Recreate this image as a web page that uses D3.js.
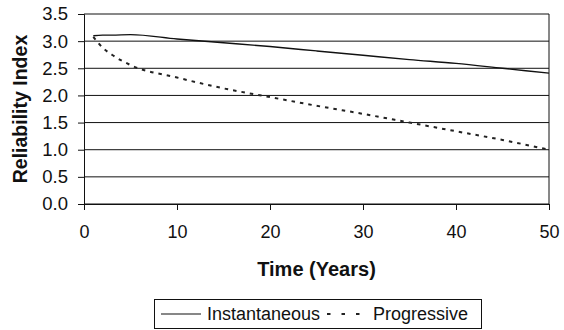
<!DOCTYPE html>
<html>
<head>
<meta charset="utf-8">
<script src="https://cdn.jsdelivr.net/npm/d3@7"></script>
<style>
  body { margin: 0; background: #fff; }
  svg { display: block; font-family: "Liberation Sans", Arial, sans-serif; }
</style>
</head>
<body>
<svg id="chart"></svg>
<script>
// values
var years = [1, 2, 3, 5, 10, 15, 20, 25, 30, 35, 40, 45, 50]
var instantaneous = [3.10, 3.11, 3.11, 3.12, 3.04, 2.97, 2.90, 2.82, 2.74, 2.66, 2.59, 2.50, 2.41]
var progressive = [3.08, 2.88, 2.75, 2.56, 2.33, 2.13, 1.97, 1.81, 1.66, 1.50, 1.34, 1.18, 1.00]
var xTicks = [0, 10, 20, 30, 40, 50]
var yTicks = [0, 0.5, 1, 1.5, 2, 2.5, 3, 3.5]
var seriesNames = ["Instantaneous", "Progressive"]

var dimensions = {
    width: 564,
    height: 330,
    margin: { top: 14, bottom: 126, right: 15, left: 84 }
}

var svg = d3.select("#chart")
    .attr("width", dimensions.width)
    .attr("height", dimensions.height)

var xScale = d3.scaleLinear()
    .domain([0, 50])
    .range([dimensions.margin.left, dimensions.width - dimensions.margin.right])

var yScale = d3.scaleLinear()
    .domain([0, 3.5])
    .range([dimensions.height - dimensions.margin.bottom, dimensions.margin.top])

// gridlines
svg.append("g")
    .selectAll("line")
    .data(yTicks)
    .enter()
    .append("line")
    .attr("x1", xScale(0))
    .attr("x2", xScale(50))
    .attr("y1", d => yScale(d))
    .attr("y2", d => yScale(d))
    .attr("stroke", "#111")
    .attr("stroke-width", 1)

// right border
svg.append("line")
    .attr("x1", xScale(50)).attr("x2", xScale(50))
    .attr("y1", yScale(0)).attr("y2", yScale(3.5))
    .attr("stroke", "#111")

var yAxis = svg.append("g")
    .attr("transform", "translate(" + xScale(0) + ",0)")
    .call(d3.axisLeft(yScale).tickValues(yTicks).tickFormat(d3.format(".1f")).tickSizeOuter(0).tickSize(6).tickPadding(10))
yAxis.selectAll("text").style("font-size", "18.5px").attr("fill", "#111")
yAxis.selectAll("line, path").attr("stroke", "#111")

var xAxis = svg.append("g")
    .attr("transform", "translate(0," + yScale(0) + ")")
    .call(d3.axisBottom(xScale).tickValues(xTicks).tickSizeOuter(0).tickSize(6).tickPadding(15))
xAxis.selectAll("text").style("font-size", "18px").attr("fill", "#111")
xAxis.selectAll("line, path").attr("stroke", "#111")

svg.append("text")
    .attr("transform", "translate(27," + ((yScale(0) + yScale(3.5)) / 2) + ") rotate(-90)")
    .attr("text-anchor", "middle")
    .style("font-size", "19.5px")
    .style("font-weight", "bold")
    .attr("fill", "#111")
    .text("Reliability Index")

svg.append("text")
    .attr("x", (xScale(0) + xScale(50)) / 2)
    .attr("y", 276)
    .attr("text-anchor", "middle")
    .style("font-size", "20px")
    .style("font-weight", "bold")
    .attr("fill", "#111")
    .text("Time (Years)")

var line = d3.line()
    .x(d => xScale(d[0]))
    .y(d => yScale(d[1]))
    .curve(d3.curveMonotoneX)

svg.append("path")
    .datum(years.map((y, i) => [y, instantaneous[i]]))
    .attr("d", line)
    .attr("fill", "none")
    .attr("stroke", "#111")
    .attr("stroke-width", 1.4)

svg.append("path")
    .datum(years.map((y, i) => [y, progressive[i]]))
    .attr("d", line)
    .attr("fill", "none")
    .attr("stroke", "#222")
    .attr("stroke-width", 2)
    .attr("stroke-dasharray", "3.5,5")

// legend
var legend = svg.append("g")
legend.append("rect")
    .attr("x", 154.5).attr("y", 299.5)
    .attr("width", 327).attr("height", 29)
    .attr("fill", "#fff")
    .attr("stroke", "#111")

legend.append("line")
    .attr("x1", 161).attr("x2", 201).attr("y1", 314).attr("y2", 314)
    .attr("stroke", "#111").attr("stroke-width", 1.2)
legend.append("text")
    .attr("x", 207).attr("y", 320)
    .style("font-size", "18px")
    .attr("fill", "#111")
    .text(seriesNames[0])

legend.append("line")
    .attr("x1", 327).attr("x2", 367).attr("y1", 314).attr("y2", 314)
    .attr("stroke", "#222").attr("stroke-width", 2)
    .attr("stroke-dasharray", "3.5,11")
legend.append("text")
    .attr("x", 373).attr("y", 320)
    .style("font-size", "18px")
    .attr("fill", "#111")
    .text(seriesNames[1])
</script>
</body>
</html>
